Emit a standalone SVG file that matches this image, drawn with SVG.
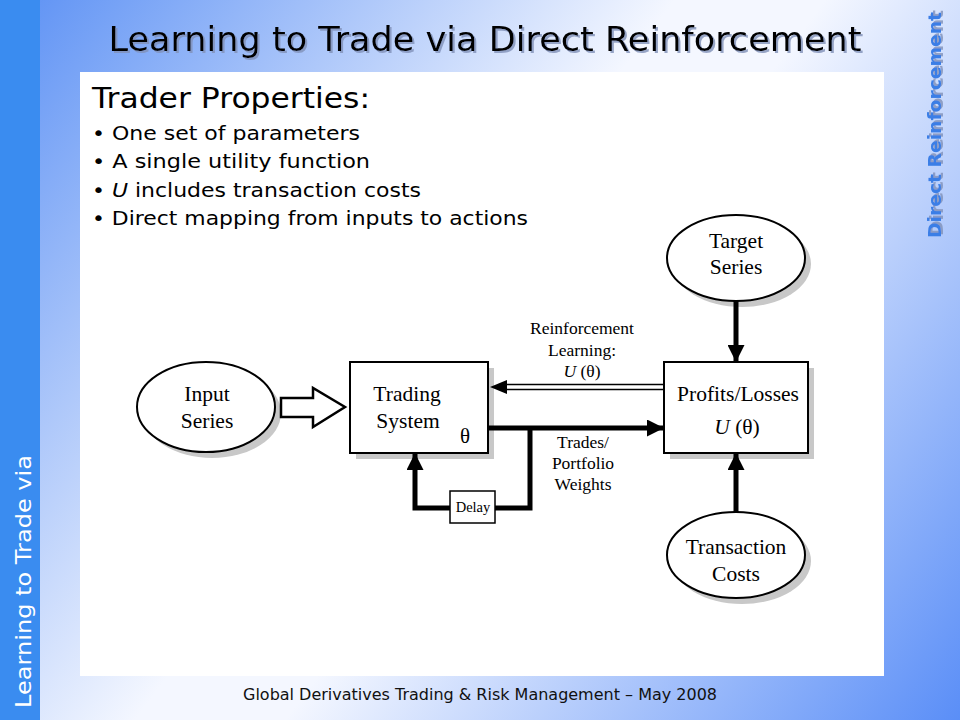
<svg xmlns="http://www.w3.org/2000/svg" width="960" height="720" viewBox="0 0 960 720">
<defs>
<linearGradient id="bg" x1="0" y1="0" x2="960" y2="720" gradientUnits="userSpaceOnUse">
<stop offset="0" stop-color="#5b90f4"/>
<stop offset="0.45" stop-color="#f4f7ff"/>
<stop offset="0.55" stop-color="#f4f7ff"/>
<stop offset="1" stop-color="#5a8ef7"/>
</linearGradient>
<filter id="ds" x="-5%" y="-20%" width="110%" height="140%">
<feDropShadow dx="2" dy="2" stdDeviation="0.6" flood-color="#8090b8" flood-opacity="0.8"/>
</filter>
<marker id="ah" viewBox="0 0 10 10" refX="10" refY="5" markerWidth="3.4" markerHeight="3.4" orient="auto" markerUnits="strokeWidth">
<path d="M0,0 L10,5 L0,10 z" fill="#000"/>
</marker>
</defs>
<style>
.serif{font-family:"Liberation Serif","Times New Roman",serif;fill:#000}
.node{font-size:21.5px}
.lbl{font-size:17.5px}
.shape{fill:#fff;stroke:#000;stroke-width:2}
.shadow{fill:#c8c8c8}
.thick{fill:none;stroke:#000;stroke-width:5}
.body{font-family:"DejaVu Sans","Open Sans",sans-serif;fill:#000}
</style>
<rect x="0" y="0" width="960" height="720" fill="url(#bg)"/>
<rect x="0" y="0" width="40" height="720" fill="#3a8cf0"/>
<rect x="80" y="72" width="804" height="604" fill="#fff"/>
<text x="485" y="51" text-anchor="middle" class="body" font-size="34" textLength="753" lengthAdjust="spacingAndGlyphs" filter="url(#ds)">Learning to Trade via Direct Reinforcement</text>
<text transform="translate(941,238) rotate(-90)" font-family="DejaVu Sans, sans-serif" font-weight="bold" font-size="18" fill="#3a7ee6" textLength="226" lengthAdjust="spacingAndGlyphs" filter="url(#ds)">Direct Reinforcement</text>
<text transform="translate(31,708) rotate(-90)" font-family="DejaVu Sans, sans-serif" font-size="22" fill="#fff" textLength="253" lengthAdjust="spacingAndGlyphs">Learning to Trade via</text>
<text x="480" y="700" text-anchor="middle" font-family="DejaVu Sans, sans-serif" font-size="15" fill="#111" textLength="474" lengthAdjust="spacingAndGlyphs">Global Derivatives Trading &amp; Risk Management – May 2008</text>
<g id="text-block">
<text x="92" y="108" class="body" font-size="28" textLength="278" lengthAdjust="spacingAndGlyphs">Trader Properties:</text>
<text x="92" y="140" class="body" font-size="20" textLength="268" lengthAdjust="spacingAndGlyphs">• One set of parameters</text>
<text x="92" y="168" class="body" font-size="20" textLength="278" lengthAdjust="spacingAndGlyphs">• A single utility function</text>
<text x="92" y="197" class="body" font-size="20" textLength="329" lengthAdjust="spacingAndGlyphs">• <tspan font-style="italic">U</tspan> includes transaction costs</text>
<text x="92" y="225" class="body" font-size="20" textLength="436" lengthAdjust="spacingAndGlyphs">• Direct mapping from inputs to actions</text>
</g>
<g id="input-series">
<ellipse class="shadow" cx="212" cy="413" rx="69" ry="45"/>
<ellipse class="shape" cx="206" cy="407" rx="69" ry="45"/>
<text class="serif node" x="207" y="401" text-anchor="middle">Input</text>
<text class="serif node" x="207" y="428" text-anchor="middle">Series</text>
</g>
<g id="trading-system">
<rect class="shadow" x="356" y="368" width="138" height="91"/>
<rect class="shape" x="350" y="362" width="138" height="91"/>
<text class="serif node" x="407" y="401" text-anchor="middle">Trading</text>
<text class="serif node" x="408" y="428" text-anchor="middle">System</text>
<text class="serif" font-size="21" x="465" y="443" text-anchor="middle">θ</text>
</g>
<g id="profits-losses">
<rect class="shadow" x="670" y="368" width="144" height="91"/>
<rect class="shape" x="664" y="362" width="144" height="91"/>
<text class="serif node" x="738" y="401" text-anchor="middle">Profits/Losses</text>
<text class="serif node" x="737" y="434" text-anchor="middle"><tspan font-style="italic">U</tspan> (θ)</text>
</g>
<g id="target-series">
<ellipse class="shadow" cx="742" cy="264" rx="69" ry="43"/>
<ellipse class="shape" cx="736" cy="258" rx="69" ry="43"/>
<text class="serif node" x="736" y="248" text-anchor="middle">Target</text>
<text class="serif node" x="736" y="274" text-anchor="middle">Series</text>
</g>
<g id="transaction-costs">
<ellipse class="shadow" cx="742" cy="561" rx="69" ry="43"/>
<ellipse class="shape" cx="736" cy="555" rx="69" ry="43"/>
<text class="serif node" x="736" y="554" text-anchor="middle">Transaction</text>
<text class="serif node" x="736" y="581" text-anchor="middle">Costs</text>
</g>
<g id="delay">
<rect x="450" y="491" width="45" height="32" fill="#fff" stroke="#000" stroke-width="1.5"/>
<text class="serif" font-size="14.5" x="473" y="512" text-anchor="middle">Delay</text>
</g>
<g id="connectors">
<path d="M281,398 H313 V388 L345,407 L313,427 V417 H281 Z" fill="#fff" stroke="#000" stroke-width="2.5" stroke-linejoin="miter"/>
<line class="thick" x1="736" y1="301" x2="736" y2="362" marker-end="url(#ah)"/>
<line class="thick" x1="736" y1="512" x2="736" y2="453" marker-end="url(#ah)"/>
<line class="thick" x1="488" y1="428" x2="664" y2="428" marker-end="url(#ah)"/>
<polyline class="thick" points="530,428 530,508 495,508"/>
<polyline class="thick" points="450,508 415,508 415,453" marker-end="url(#ah)"/>
<line x1="664" y1="384.5" x2="500" y2="384.5" stroke="#000" stroke-width="1.5"/>
<line x1="664" y1="389.5" x2="500" y2="389.5" stroke="#000" stroke-width="1.5"/>
<path d="M490,387 L507,380 L507,394 Z" fill="#000"/>
<text class="serif lbl" x="582" y="334" text-anchor="middle">Reinforcement</text>
<text class="serif lbl" x="582" y="356" text-anchor="middle">Learning:</text>
<text class="serif lbl" x="582" y="377" text-anchor="middle"><tspan font-style="italic">U</tspan> (θ)</text>
<text class="serif lbl" x="583" y="448" text-anchor="middle">Trades/</text>
<text class="serif lbl" x="583" y="469" text-anchor="middle">Portfolio</text>
<text class="serif lbl" x="583" y="490" text-anchor="middle">Weights</text>
</g>
</svg>
